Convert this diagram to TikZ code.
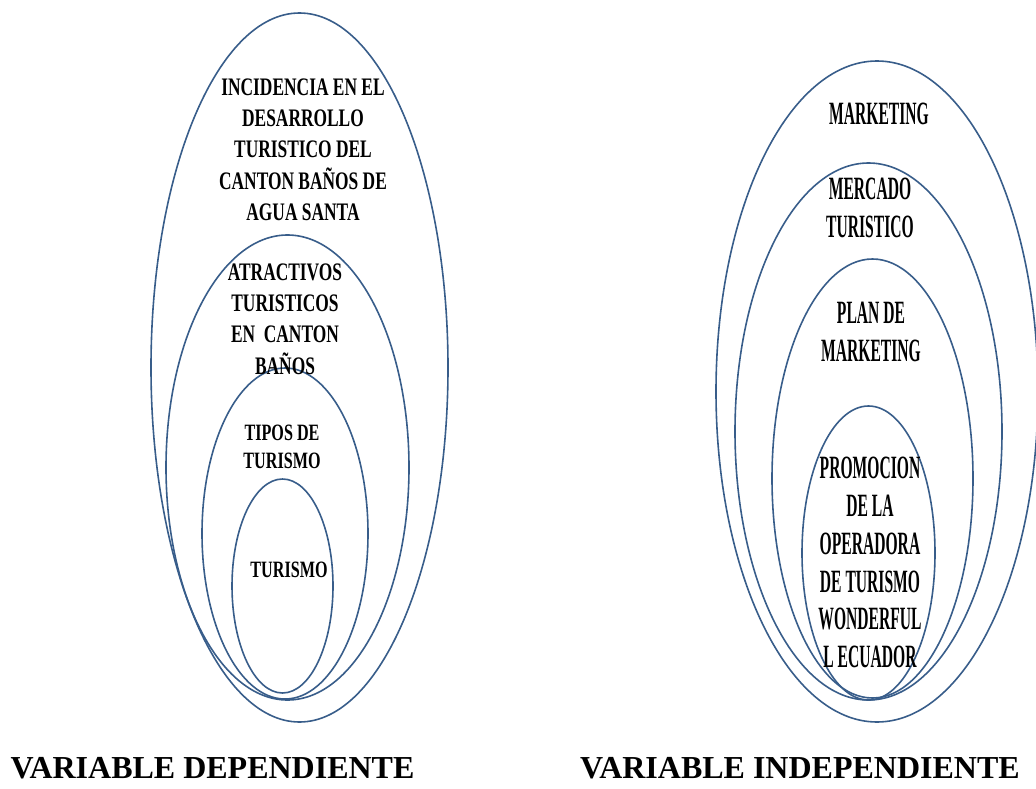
\documentclass[tikz,border=0pt]{standalone}
\usepackage{fontspec}
\setmainfont{Liberation Serif}
\newfontfamily\narrowfont[FakeStretch=0.69]{Liberation Serif}
\newfontfamily\narrowerfont[FakeStretch=0.48]{Liberation Serif}
\definecolor{ringblue}{HTML}{385D8A}
\tikzset{
  ring/.style={draw=ringblue, line width=1.6pt},
  lefttext/.style={align=center, inner sep=0pt, font=\narrowfont\bfseries\fontsize{25.2}{31.3}\selectfont},
  righttext/.style={align=center, inner sep=0pt, font=\narrowerfont\bfseries\fontsize{32.5}{37.8}\selectfont},
  vartext/.style={inner sep=0pt, font=\bfseries\fontsize{32}{36}\selectfont}
}
\begin{document}
\begin{tikzpicture}[x=1pt, y=-1pt]
            \useasboundingbox (0,0) rectangle (1036,789);
            % dependiente
            \draw [ring] (299.5,367.5) ellipse [x radius=148.5, y radius=354.5];
            \draw [ring] (287.5,467.5) ellipse [x radius=121.5, y radius=232.5];
            \draw [ring] (285,533.5) ellipse [x radius=83, y radius=165.5];
            \draw [ring] (282.5,586) ellipse [x radius=50.5, y radius=107];
            \node [lefttext] (inc) at (303,149.5) {INCIDENCIA EN EL\\DESARROLLO\\TURISTICO DEL\\CANTON BAÑOS DE\\AGUA SANTA};
            \node [lefttext] (atr) at (285,319) {ATRACTIVOS\\TURISTICOS\\EN\ \ CANTON\\BAÑOS};
            \node [lefttext, font=\narrowfont\bfseries\fontsize{23.4}{28}\selectfont] (tip) at (282,447) {TIPOS DE\\TURISMO};
            \node [lefttext, font=\narrowfont\bfseries\fontsize{23.4}{28}\selectfont] (tur) at (289,570) {TURISMO};
            % independiente
            \draw [ring] (877,391.5) ellipse [x radius=161, y radius=330.5];
            \draw [ring] (868.5,431.5) ellipse [x radius=133.5, y radius=268.5];
            \draw [ring] (872.5,478.5) ellipse [x radius=100.5, y radius=219.5];
            \draw [ring] (868.5,553) ellipse [x radius=66.5, y radius=147];
            \node [righttext] (mkt) at (879,114) {MARKETING};
            \node [righttext] (mer) at (870,208) {MERCADO\\TURISTICO};
            \node [righttext] (plan) at (871,332) {PLAN DE\\MARKETING};
            \node [righttext] (prom) at (870,562.5) {PROMOCION\\DE LA\\OPERADORA\\DE TURISMO\\WONDERFUL\\L ECUADOR};
            % titulos
            \node [vartext] (dep) at (212.5,768) {VARIABLE DEPENDIENTE};
            \node [vartext] (indep) at (800,768) {VARIABLE INDEPENDIENTE};
        \end{tikzpicture}
\end{document}
